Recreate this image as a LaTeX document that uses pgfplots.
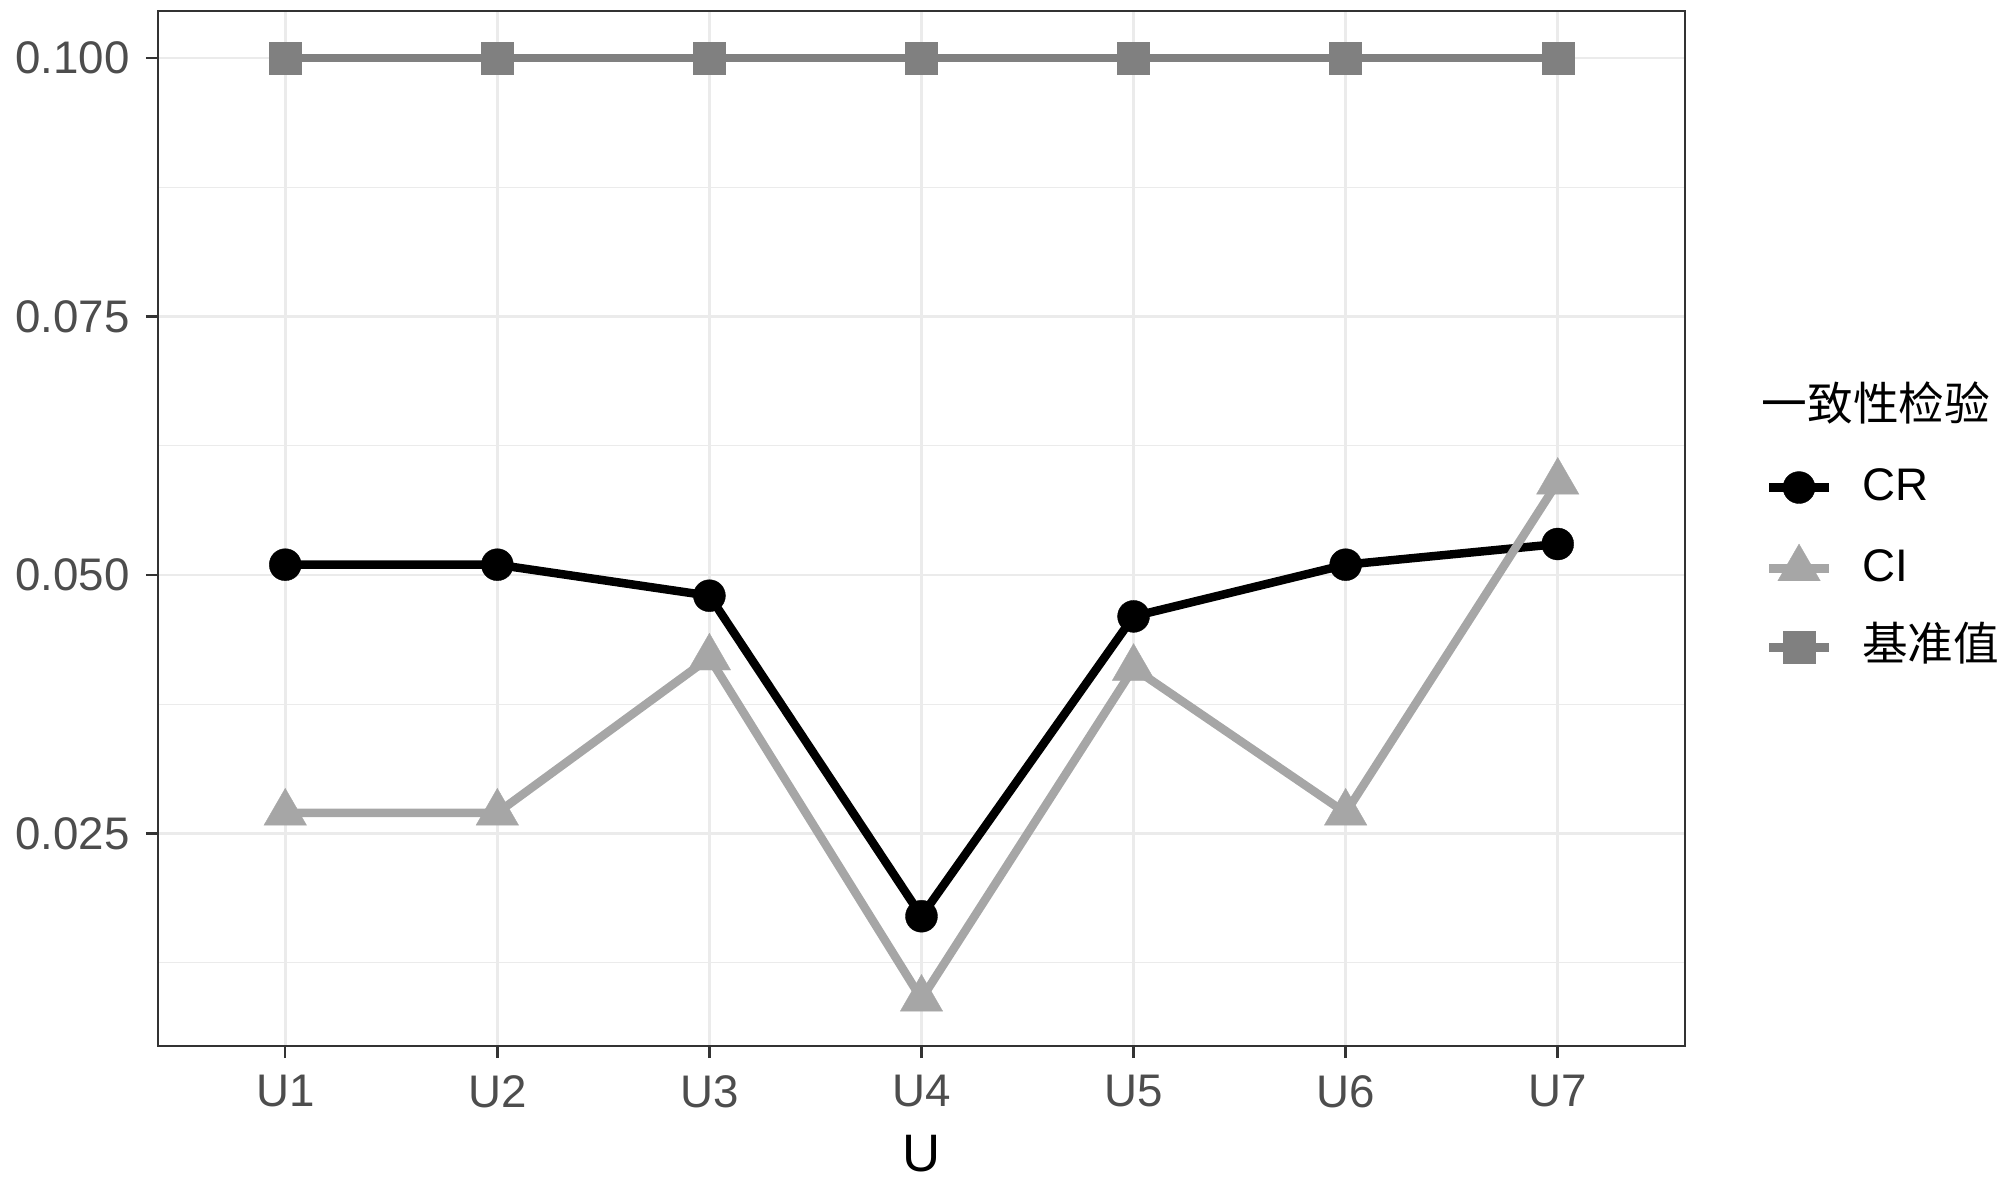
\documentclass[border=0pt]{standalone}
\usepackage{pgfplots}
\pgfplotsset{compat=1.18}
\usepackage{fontspec}
\setmainfont{Liberation Sans}
\newfontfamily\cjk{Noto Sans CJK SC}
\definecolor{ggrid}{HTML}{EBEBEB}
\definecolor{gtick}{HTML}{4D4D4D}
\definecolor{gframe}{HTML}{333333}
\definecolor{ciCol}{HTML}{A6A6A6}
\definecolor{baseCol}{HTML}{808080}
\begin{document}
\begin{tikzpicture}
\path[use as bounding box] (-15.8mm,-13.4mm) rectangle (184.2mm,104.6mm);
\begin{axis}[
  name=ax, at={(0,0)}, anchor=south west,
  scale only axis, width=152.7mm, height=103.5mm,
  xmin=0.4, xmax=7.6, ymin=0.00445, ymax=0.10455,
  xtick={1,2,3,4,5,6,7}, xticklabels={U1,U2,U3,U4,U5,U6,U7},
  ytick={0.025,0.05,0.075,0.1}, yticklabels={0.025,0.050,0.075,0.100},
  minor ytick={0.0125,0.0375,0.0625,0.0875},
  grid=both,
  major grid style={ggrid, line width=0.28mm},
  minor grid style={ggrid, line width=0.14mm},
  axis line style={gframe, line width=0.25mm},
  tick align=outside, major tick length=1.2mm, minor tick length=0mm,
  tick style={gframe, line width=0.25mm},
  xtick pos=bottom, ytick pos=left,
  ticklabel style={font=\fontsize{13}{15}\selectfont, text=gtick},
  xticklabel style={yshift=-0.5mm},
  yticklabel style={xshift=-0.4mm},
  xlabel={U},
  xlabel style={font=\fontsize{15}{18}\selectfont, at={(axis description cs:0.5,0)}, anchor=center, yshift=-10.8mm},
  legend style={draw=none, fill=none, at={(1.0518,0.562)}, anchor=north west, inner sep=0pt,
    font=\fontsize{13}{15}\selectfont, row sep=3.4mm,
    nodes={inner sep=0pt, text height=3.5mm, text depth=1mm},
    /tikz/every odd column/.append style={column sep=2.9mm}},
  legend cell align=left,
]
\addplot[black, line width=0.85mm, mark=*, mark size=1.6mm, mark options={solid, fill=black, line width=0.1pt}]
  coordinates {(1,0.051) (2,0.051) (3,0.048) (4,0.017) (5,0.046) (6,0.051) (7,0.053)};
\addlegendentry{CR}
\addplot[ciCol, line width=0.85mm, mark=triangle*, mark size=2.45mm, mark options={solid, fill=ciCol, line width=0.1pt}]
  coordinates {(1,0.027) (2,0.027) (3,0.042) (4,0.009) (5,0.041) (6,0.027) (7,0.059)};
\addlegendentry{CI}
\addplot[baseCol, line width=0.85mm, mark=square*, mark size=1.6mm, mark options={solid, fill=baseCol, line width=0.1pt}]
  coordinates {(1,0.1) (2,0.1) (3,0.1) (4,0.1) (5,0.1) (6,0.1) (7,0.1)};
\addlegendentry{{\cjk 基准值}}
\end{axis}
\node[anchor=west, font=\fontsize{13}{16}\selectfont\cjk, inner sep=0pt] at (160.3mm,64.3mm) {一致性检验};
\end{tikzpicture}
\end{document}
